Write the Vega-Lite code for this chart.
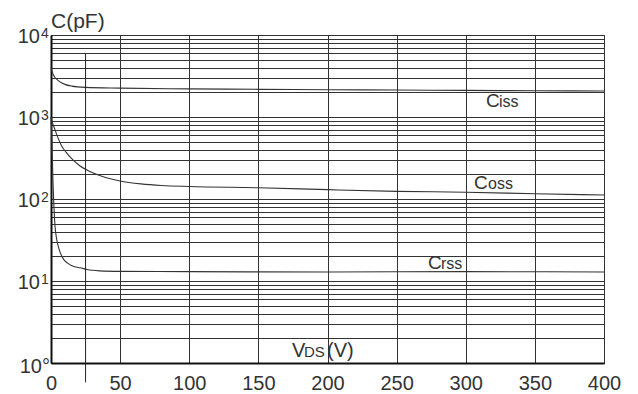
{
  "$schema": "https://vega.github.io/schema/vega-lite/v6.json",
  "width": 553,
  "height": 328,
  "autosize": "none",
  "padding": {"left": 51, "top": 35, "right": 34, "bottom": 31},
  "background": "white",
  "config": {
    "font": "Liberation Sans",
    "view": {"stroke": "#555", "strokeWidth": 1},
    "text": {"font": "Liberation Sans", "fill": "#333"}
  },
  "data": {"values": [{}]},
  "datasets": {
    "curves": [
      {"series": "Ciss", "V": 0, "C": 4000},
      {"series": "Ciss", "V": 1, "C": 3500},
      {"series": "Ciss", "V": 2.5, "C": 3100},
      {"series": "Ciss", "V": 5, "C": 2800},
      {"series": "Ciss", "V": 10, "C": 2500},
      {"series": "Ciss", "V": 15, "C": 2380},
      {"series": "Ciss", "V": 25, "C": 2300},
      {"series": "Ciss", "V": 50, "C": 2250},
      {"series": "Ciss", "V": 100, "C": 2200},
      {"series": "Ciss", "V": 150, "C": 2175},
      {"series": "Ciss", "V": 200, "C": 2150},
      {"series": "Ciss", "V": 250, "C": 2130},
      {"series": "Ciss", "V": 300, "C": 2110},
      {"series": "Ciss", "V": 350, "C": 2090},
      {"series": "Ciss", "V": 400, "C": 2075},
      {"series": "Coss", "V": 0, "C": 1000},
      {"series": "Coss", "V": 1, "C": 860},
      {"series": "Coss", "V": 3, "C": 690},
      {"series": "Coss", "V": 5, "C": 560},
      {"series": "Coss", "V": 7.5, "C": 450},
      {"series": "Coss", "V": 11, "C": 370},
      {"series": "Coss", "V": 15, "C": 310},
      {"series": "Coss", "V": 21, "C": 253},
      {"series": "Coss", "V": 26, "C": 226},
      {"series": "Coss", "V": 31, "C": 206},
      {"series": "Coss", "V": 40, "C": 182},
      {"series": "Coss", "V": 50, "C": 166},
      {"series": "Coss", "V": 65, "C": 153},
      {"series": "Coss", "V": 80, "C": 146},
      {"series": "Coss", "V": 100, "C": 142},
      {"series": "Coss", "V": 150, "C": 137},
      {"series": "Coss", "V": 200, "C": 130},
      {"series": "Coss", "V": 250, "C": 124},
      {"series": "Coss", "V": 300, "C": 121},
      {"series": "Coss", "V": 350, "C": 116},
      {"series": "Coss", "V": 400, "C": 112},
      {"series": "Crss", "V": 0, "C": 1000},
      {"series": "Crss", "V": 0.5, "C": 600},
      {"series": "Crss", "V": 1, "C": 300},
      {"series": "Crss", "V": 1.5, "C": 150},
      {"series": "Crss", "V": 2, "C": 90},
      {"series": "Crss", "V": 2.5, "C": 60},
      {"series": "Crss", "V": 3, "C": 45},
      {"series": "Crss", "V": 4, "C": 33},
      {"series": "Crss", "V": 6, "C": 24},
      {"series": "Crss", "V": 9, "C": 18.5},
      {"series": "Crss", "V": 12, "C": 16.5},
      {"series": "Crss", "V": 17, "C": 14.9},
      {"series": "Crss", "V": 21, "C": 14.5},
      {"series": "Crss", "V": 26, "C": 13.8},
      {"series": "Crss", "V": 35, "C": 13.3},
      {"series": "Crss", "V": 50, "C": 13.1},
      {"series": "Crss", "V": 100, "C": 13.0},
      {"series": "Crss", "V": 200, "C": 12.9},
      {"series": "Crss", "V": 300, "C": 13.0},
      {"series": "Crss", "V": 400, "C": 12.9}
    ],
    "decades": [
      {"v": 10000, "e": "4"},
      {"v": 1000, "e": "3"},
      {"v": 100, "e": "2"},
      {"v": 10, "e": "1"}
    ]
  },
  "layer": [
    {
      "data": {"name": "curves"},
      "mark": {"type": "line", "interpolate": "monotone", "stroke": "#333", "strokeWidth": 1.1},
      "encoding": {
        "x": {
          "field": "V",
          "type": "quantitative",
          "scale": {"domain": [0, 400], "nice": false, "zero": false},
          "axis": {
            "values": [0, 50, 100, 150, 200, 250, 300, 350, 400],
            "grid": true,
            "gridColor": "#333",
            "gridWidth": 1,
            "ticks": false,
            "labelFontSize": 20,
            "labelColor": "#333",
            "labelPadding": 10,
            "labelFlush": false,
            "labelFont": "Liberation Sans",
            "domainColor": "#111",
            "domainWidth": 2,
            "title": null
          }
        },
        "y": {
          "field": "C",
          "type": "quantitative",
          "scale": {"type": "log", "domain": [1, 10000], "nice": false},
          "axis": {
            "values": [1, 2, 3, 4, 5, 6, 7, 8, 9, 10, 20, 30, 40, 50, 60, 70, 80, 90, 100, 200, 300, 400, 500, 600, 700, 800, 900, 1000, 2000, 3000, 4000, 5000, 6000, 7000, 8000, 9000, 10000],
            "grid": true,
            "gridColor": "#333",
            "gridWidth": 1,
            "ticks": false,
            "labels": false,
            "domainColor": "#111",
            "domainWidth": 2,
            "title": null
          }
        },
        "detail": {"field": "series"}
      }
    },
    {
      "mark": {"type": "rule", "stroke": "#222", "strokeWidth": 1},
      "encoding": {
        "x": {"datum": 25},
        "y": {"datum": 6000},
        "y2": {"datum": 0.58}
      }
    },
    {
      "data": {"name": "decades"},
      "mark": {"type": "text", "align": "right", "baseline": "alphabetic", "dx": -11, "dy": 8, "fontSize": 20},
      "encoding": {
        "x": {"datum": 0},
        "y": {"field": "v", "type": "quantitative"},
        "text": {"value": "10"}
      }
    },
    {
      "data": {"name": "decades"},
      "mark": {"type": "text", "align": "left", "baseline": "alphabetic", "dx": -10, "dy": 3, "fontSize": 14},
      "encoding": {
        "x": {"datum": 0},
        "y": {"field": "v", "type": "quantitative"},
        "text": {"field": "e"}
      }
    },
    {
      "mark": {"type": "text", "align": "right", "baseline": "alphabetic", "dx": -1, "dy": 10, "fontSize": 20},
      "encoding": {"x": {"datum": 0}, "y": {"datum": 1}, "text": {"value": "10°"}}
    },
    {
      "mark": {"type": "text", "align": "left", "baseline": "alphabetic", "dy": -7, "fontSize": 21},
      "encoding": {"x": {"datum": 0}, "y": {"datum": 10000}, "text": {"value": "C(pF)"}}
    },
    {
      "mark": {"type": "text", "align": "left", "baseline": "alphabetic", "fontSize": 20},
      "encoding": {"x": {"datum": 174.3}, "y": {"datum": 1.19}, "text": {"value": "V"}}
    },
    {
      "mark": {"type": "text", "align": "left", "baseline": "alphabetic", "dx": 12, "fontSize": 15},
      "encoding": {"x": {"datum": 174.3}, "y": {"datum": 1.19}, "text": {"value": "DS"}}
    },
    {
      "mark": {"type": "text", "align": "left", "baseline": "alphabetic", "dx": 35, "fontSize": 20},
      "encoding": {"x": {"datum": 174.3}, "y": {"datum": 1.19}, "text": {"value": "(V)"}}
    },
    {
      "mark": {"type": "text", "align": "left", "baseline": "alphabetic", "fontSize": 19},
      "encoding": {"x": {"datum": 314.6}, "y": {"datum": 1324}, "text": {"value": "C"}}
    },
    {
      "mark": {"type": "text", "align": "left", "baseline": "alphabetic", "dx": 13, "fontSize": 16},
      "encoding": {"x": {"datum": 314.6}, "y": {"datum": 1324}, "text": {"value": "iss"}}
    },
    {
      "mark": {"type": "text", "align": "left", "baseline": "alphabetic", "fontSize": 19},
      "encoding": {"x": {"datum": 306}, "y": {"datum": 133}, "text": {"value": "C"}}
    },
    {
      "mark": {"type": "text", "align": "left", "baseline": "alphabetic", "dx": 14, "fontSize": 16},
      "encoding": {"x": {"datum": 306}, "y": {"datum": 133}, "text": {"value": "oss"}}
    },
    {
      "mark": {"type": "text", "align": "left", "baseline": "alphabetic", "fontSize": 19},
      "encoding": {"x": {"datum": 272.7}, "y": {"datum": 14.1}, "text": {"value": "C"}}
    },
    {
      "mark": {"type": "text", "align": "left", "baseline": "alphabetic", "dx": 13, "fontSize": 16},
      "encoding": {"x": {"datum": 272.7}, "y": {"datum": 14.1}, "text": {"value": "rss"}}
    }
  ]
}
